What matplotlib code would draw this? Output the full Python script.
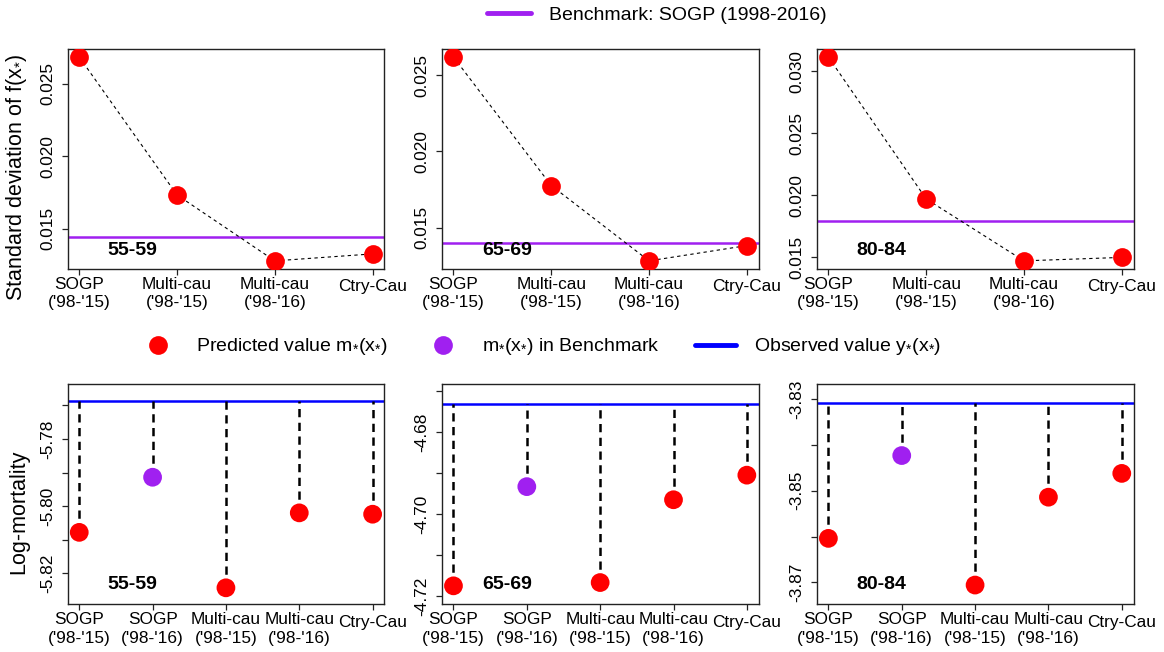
import numpy as np
import matplotlib.pyplot as plt
from matplotlib.lines import Line2D
from matplotlib.ticker import MultipleLocator, FuncFormatter, FormatStrFormatter

plt.rcParams['font.family'] = ['Liberation Sans', 'DejaVu Sans']
plt.rcParams['mathtext.fontset'] = 'custom'
plt.rcParams['mathtext.rm'] = 'Liberation Sans'
plt.rcParams['mathtext.it'] = 'Liberation Sans:italic'
plt.rcParams['axes.unicode_minus'] = False

ages = ['55-59', '65-69', '80-84']

# standard deviation of f(x*) per model
sd_models = ["SOGP\n('98-'15)", "Multi-cau\n('98-'15)", "Multi-cau\n('98-'16)", "Ctry-Cau"]
sd_values = [
    [0.02684, 0.01734, 0.01280, 0.01328],
    [0.02618, 0.01777, 0.01284, 0.01384],
    [0.03116, 0.01970, 0.01470, 0.01498],
]
sd_benchmark = [0.01447, 0.01400, 0.01790]

# predicted log-mortality per model (index 1 is the benchmark)
pred_models = ["SOGP\n('98-'15)", "SOGP\n('98-'16)", "Multi-cau\n('98-'15)",
               "Multi-cau\n('98-'16)", "Ctry-Cau"]
pred_values = [
    [-5.8078, -5.7914, -5.8243, -5.8020, -5.8024],
    [-4.7175, -4.6933, -4.7167, -4.6965, -4.6905],
    [-3.8604, -3.8423, -3.8706, -3.8514, -3.8462],
]
observed = [-5.7686, -4.6731, -3.8309]
pred_ylims = [(-5.8292, -5.7637), (-4.7220, -4.6683), (-3.8748, -3.8267)]

RED = '#FF0000'
PURPLE = '#A020F0'
BLUE = '#0000FF'

fig = plt.figure(figsize=(11.64, 6.52), dpi=100)

lefts = [0.058, 0.3795, 0.7016]
width = 0.2722
height = 0.3376


def style_axes(ax):
    for s in ax.spines.values():
        s.set_color('#222222')
        s.set_linewidth(1.0)
    ax.tick_params(axis='both', direction='out', length=4, width=0.9,
                   color='#222222', labelsize=12.4)
    ax.tick_params(axis='x', pad=1.5)
    ax.tick_params(axis='y', pad=5)
    for lab in ax.get_yticklabels():
        lab.set_rotation(90)
        lab.set_va('center')
    for lab in ax.get_xticklabels():
        lab.set_linespacing(1.3)
        if '\n' not in lab.get_text():
            lab.set_y(-0.012)


for i, age in enumerate(ages):
    # top row: standard deviation
    ax = fig.add_axes([lefts[i], 0.5874, width, height])
    x = np.arange(1, len(sd_models) + 1)
    y = np.array(sd_values[i])
    ax.axhline(sd_benchmark[i], color=PURPLE, lw=1.8, zorder=1)
    ax.plot(x, y, color='black', lw=0.8, ls=(0, (3, 3)), zorder=2)
    ax.plot(x, y, 'o', color=RED, ms=13.5, mec='none', zorder=3)
    span = y.max() - y.min()
    ax.set_ylim(y.min() - 0.04 * span, y.max() + 0.04 * span)
    ax.set_xlim(0.88, len(sd_models) + 0.12)
    ax.set_xticks(x)
    ax.set_xticklabels(sd_models)
    ax.yaxis.set_major_locator(MultipleLocator(0.005))
    ax.yaxis.set_major_formatter(FormatStrFormatter('%.3f'))
    ax.text(0.205, 0.085, age, transform=ax.transAxes, ha='center', va='center',
            fontsize=14, fontweight='bold')
    style_axes(ax)
    if i == 0:
        ax.set_ylabel(r'Standard deviation of f(x$_{*}$)', fontsize=15.5)
        ax.yaxis.set_label_coords(-0.122, 0.415)

    # bottom row: log-mortality predictions
    ax = fig.add_axes([lefts[i], 0.0732, width, height])
    x = np.arange(1, len(pred_models) + 1)
    y = np.array(pred_values[i])
    colors = [RED, PURPLE, RED, RED, RED]
    ax.axhline(observed[i], color=BLUE, lw=1.8, zorder=1)
    ax.vlines(x, y, observed[i], colors='black', lw=1.8, linestyles=(0, (3.3, 2.2)), zorder=2)
    ax.scatter(x, y, s=13.5 ** 2, c=colors, edgecolors='none', zorder=3)
    ax.set_ylim(*pred_ylims[i])
    ax.set_xlim(0.84, len(pred_models) + 0.16)
    ax.set_xticks(x)
    ax.set_xticklabels(pred_models)
    ax.yaxis.set_major_locator(MultipleLocator(0.01))
    lo = pred_ylims[i][0]
    first = np.ceil(round(lo / 0.01, 6)) * 0.01

    def fmt(v, pos, first=first):
        k = int(round((v - first) / 0.01))
        return '%.2f' % v if k % 2 == 0 else ''

    ax.yaxis.set_major_formatter(FuncFormatter(fmt))
    ax.text(0.205, 0.088, age, transform=ax.transAxes, ha='center', va='center',
            fontsize=14, fontweight='bold')
    style_axes(ax)
    if i == 0:
        ax.set_ylabel('Log-mortality', fontsize=15.5)
        ax.yaxis.set_label_coords(-0.122, 0.42)

# legends
bench_handle = Line2D([], [], color=PURPLE, lw=3.5, solid_capstyle='round')
fig.legend([bench_handle], ['Benchmark: SOGP (1998-2016)'], loc='center',
           bbox_to_anchor=(0.564, 0.977), frameon=False, fontsize=14,
           handlelength=2.3, handletextpad=0.9)

pred_handles = [
    Line2D([], [], ls='none', marker='o', color=RED, ms=13.5, mec='none'),
    Line2D([], [], ls='none', marker='o', color=PURPLE, ms=13.5, mec='none'),
    Line2D([], [], color=BLUE, lw=3.5, solid_capstyle='round'),
]
pred_labels = [r'Predicted value $\mathrm{m}_{*}(\mathrm{x}_{*})$',
               r'$\mathrm{m}_{*}(\mathrm{x}_{*})$ in Benchmark',
               r'Observed value $\mathrm{y}_{*}(\mathrm{x}_{*})$']
fig.legend(pred_handles, pred_labels, loc='center', ncol=3,
           bbox_to_anchor=(0.463, 0.468), frameon=False, fontsize=14,
           handlelength=2.15, handletextpad=0.9, columnspacing=1.8)

fig.savefig('out.png', dpi=100)
